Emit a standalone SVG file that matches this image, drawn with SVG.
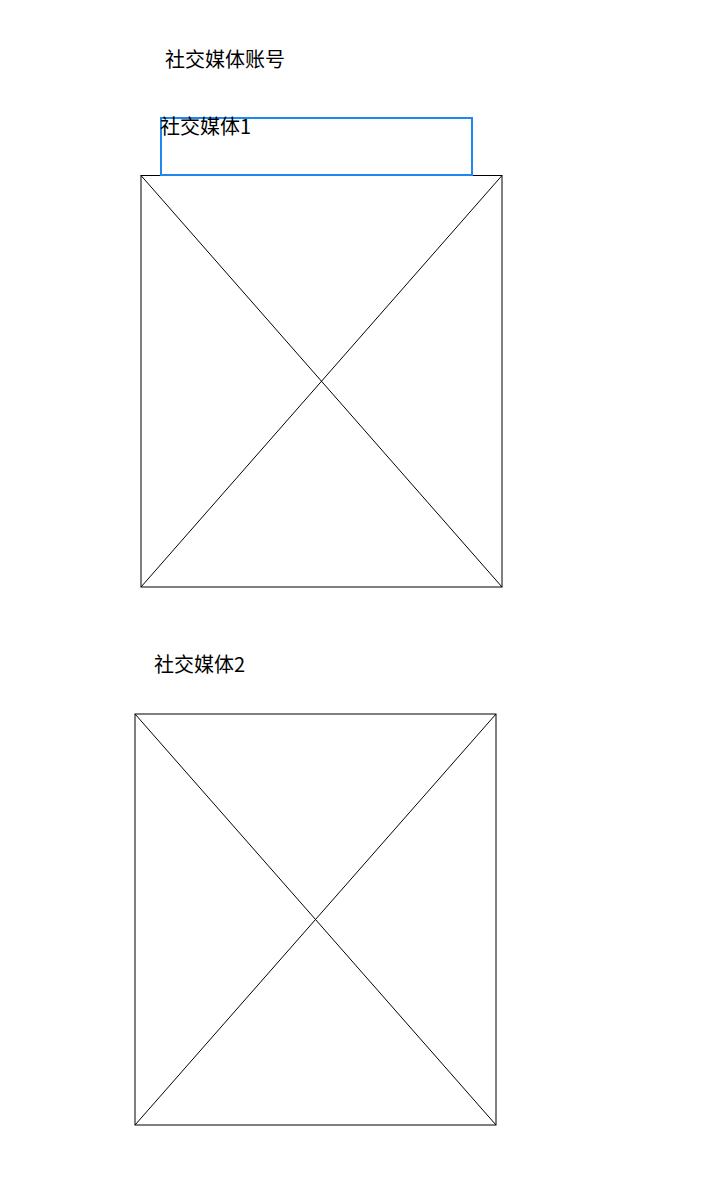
<svg xmlns="http://www.w3.org/2000/svg" width="722" height="1188" viewBox="0 0 722 1188">
<style>
.t{font-family:"Noto Sans CJK SC","Liberation Sans",sans-serif;font-size:20px;fill:#000}
.ph{fill:none;stroke:#000;stroke-width:1}
.sel{fill:none;stroke:#1e88f0;stroke-width:2}
</style>
<rect width="722" height="1188" fill="#fff"/>
<g id="title"><text class="t" x="165" y="67">社交媒体账号</text></g>
<g id="media1-image">
<rect class="ph" x="141" y="175.5" width="361" height="411.5"/>
<line class="ph" x1="141" y1="175.5" x2="502" y2="587"/>
<line class="ph" x1="502" y1="175.5" x2="141" y2="587"/>
</g>
<g id="media1-label">
<rect class="sel" x="161" y="118" width="311" height="57"/>
<text class="t" x="160" y="134">社交媒体1</text>
</g>
<g id="media2-label"><text class="t" x="154" y="672">社交媒体2</text></g>
<g id="media2-image">
<rect class="ph" x="135" y="714" width="361" height="411"/>
<line class="ph" x1="135" y1="714" x2="496" y2="1125"/>
<line class="ph" x1="496" y1="714" x2="135" y2="1125"/>
</g>
<g id="connectors"></g>
</svg>
